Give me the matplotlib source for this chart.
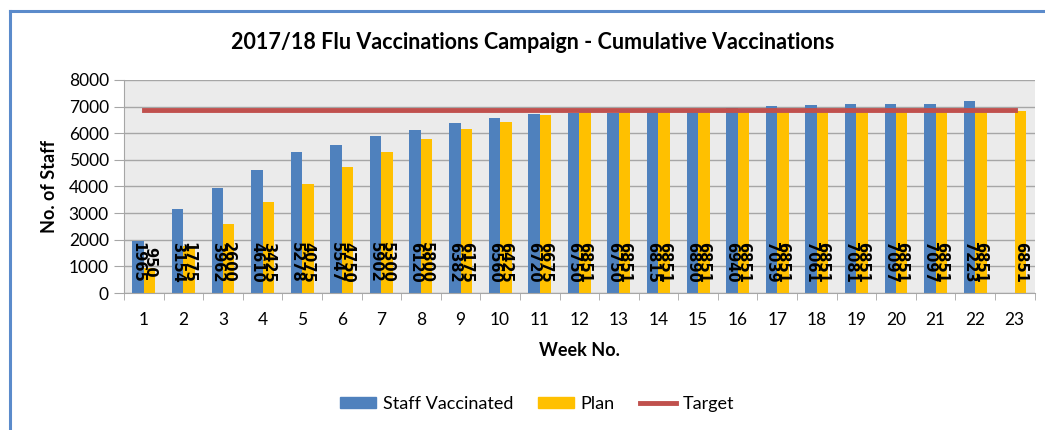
import numpy as np
import matplotlib
matplotlib.use("Agg")
import matplotlib.pyplot as plt
from matplotlib.lines import Line2D
from matplotlib.patches import Patch

# Dati
weeks = list(range(1, 24))
staff_vaccinated = [1965, 3154, 3962, 4610, 5278, 5547, 5902, 6120, 6382, 6560, 6720,
                    6750, 6750, 6815, 6890, 6940, 7039, 7061, 7081, 7097, 7097, 7223]
plan = [950, 1775, 2600, 3425, 4075, 4750, 5300, 5800, 6175, 6425, 6675,
        6851, 6851, 6851, 6851, 6851, 6851, 6851, 6851, 6851, 6851, 6851, 6851]
target = 6860

blue = "#4F81BD"
yellow = "#FFC000"
red = "#C0504D"
grid_col = "#A6A6A6"

plt.rcParams["font.family"] = ["Lato", "DejaVu Sans"]

fig = plt.figure(figsize=(10.45, 4.3), dpi=100)
ax = fig.add_axes([0.1187, 0.3186, 0.8713, 0.4954])
ax.set_facecolor("#EBEBEB")

x = np.array(weeks)
bw = 0.29
xs = x[:len(staff_vaccinated)]
ax.bar(xs - bw / 2, staff_vaccinated, width=bw, color=blue, zorder=2)
ax.bar(x + bw / 2, plan, width=bw, color=yellow, zorder=2)
ax.plot([x[0], x[-1]], [target, target], color=red, lw=3.5, zorder=3)

# Etichette ruotate dentro le barre
lab_font = dict(rotation=270, ha="center", va="center", fontsize=10.5,
                fontweight="bold", color="black", family="DejaVu Sans", zorder=4)
for xi, v in zip(xs, staff_vaccinated):
    ax.text(xi - bw / 2, 1160, str(v), **lab_font)
for xi, v in zip(x, plan):
    ax.text(xi + bw / 2, 1160, str(v), **lab_font)

ax.set_xlim(0.5, 23.5)
ax.set_ylim(0, 8000)
ax.set_yticks(range(0, 8001, 1000))
ax.yaxis.grid(True, color=grid_col, lw=1, zorder=1)
ax.set_axisbelow(True)

ax.set_xticks(x)
ax.set_xticklabels([str(w) for w in weeks])
ax.set_xticks(np.arange(0.5, 24, 1), minor=True)
ax.tick_params(axis="x", which="major", length=0, pad=14, labelsize=12.5)
ax.tick_params(axis="x", which="minor", length=5, color=grid_col, direction="out")
ax.tick_params(axis="y", length=7, color=grid_col, labelsize=12.5, pad=4)

for s in ["top", "right"]:
    ax.spines[s].set_visible(False)
for s in ["left", "bottom"]:
    ax.spines[s].set_color(grid_col)

ax.set_ylabel("No. of Staff", fontsize=13, fontweight="bold", labelpad=8)
ax.set_xlabel("Week No.", fontsize=13, fontweight="bold", labelpad=10)

fig.text(0.51, 0.902, "2017/18 Flu Vaccinations Campaign - Cumulative Vaccinations",
         ha="center", va="center", fontsize=15.5, fontweight="bold")

handles = [Patch(color=blue), Patch(color=yellow), Line2D([0], [0], color=red, lw=3.5)]
fig.legend(handles, ["Staff Vaccinated", "Plan", "Target"], loc="center",
           bbox_to_anchor=(0.514, 0.06), ncol=3, frameon=False, fontsize=13,
           handlelength=2.0, handleheight=0.55, columnspacing=1.4, handletextpad=0.35)

# Cornice del grafico
fig.add_artist(Line2D([0.0096, 0.0096], [0, 1 - 11 / 430], transform=fig.transFigure,
                      color="#5B8BCB", lw=2.2))
fig.add_artist(Line2D([0.0096, 1], [1 - 11 / 430, 1 - 11 / 430], transform=fig.transFigure,
                      color="#5B8BCB", lw=2.2))

fig.savefig("out.png", dpi=100)
